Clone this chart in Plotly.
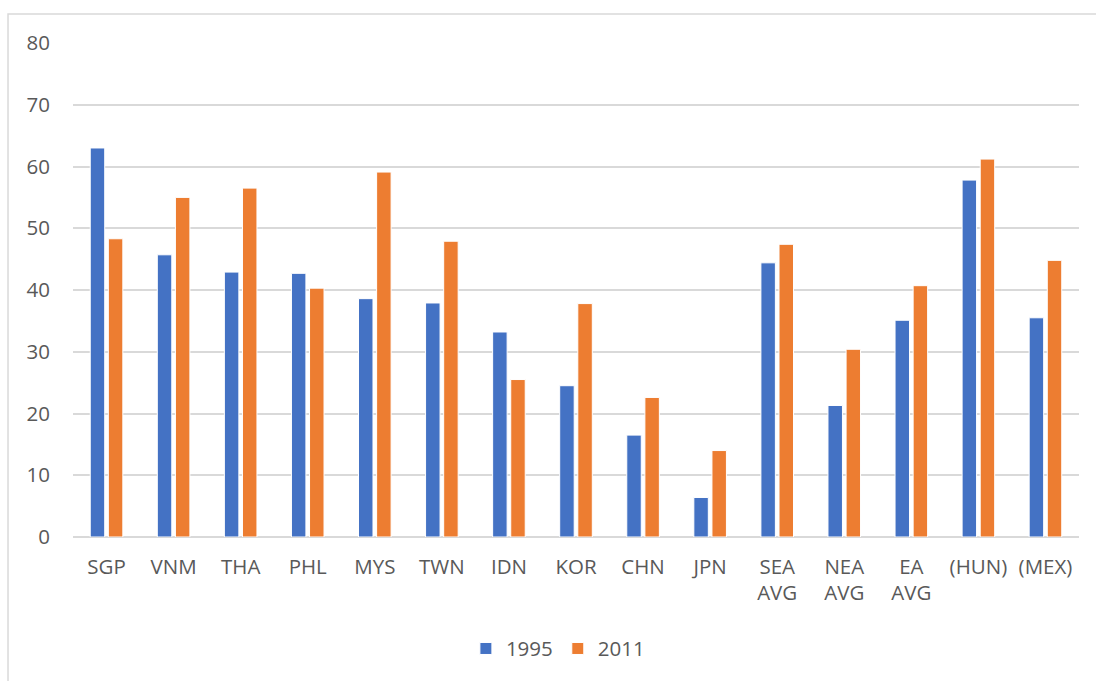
import plotly.graph_objects as go

# Categories and series values
categories = ["SGP", "VNM", "THA", "PHL", "MYS", "TWN", "IDN", "KOR", "CHN", "JPN",
              "SEA<br>AVG", "NEA<br>AVG", "EA<br>AVG", "(HUN)", "(MEX)"]
values_1995 = [63.0, 45.7, 42.9, 42.7, 38.6, 37.9, 33.2, 24.5, 16.5, 6.4,
               44.4, 21.3, 35.1, 57.8, 35.5]
values_2011 = [48.3, 55.0, 56.5, 40.3, 59.1, 47.9, 25.5, 37.8, 22.6, 14.0,
               47.4, 30.4, 40.7, 61.2, 44.8]
y_ticks = [0, 10, 20, 30, 40, 50, 60, 70, 80]

BLUE = "#4472C4"
ORANGE = "#ED7D31"
GRID = "#D9D9D9"
TEXT = "#595959"
FONT = "Open Sans, Segoe UI, sans-serif"
FS = 20.5

fig = go.Figure()
fig.add_trace(go.Bar(name="1995", x=categories, y=values_1995,
                     marker=dict(color=BLUE, line=dict(color="white", width=1))))
fig.add_trace(go.Bar(name="2011", x=categories, y=values_2011,
                     marker=dict(color=ORANGE, line=dict(color="white", width=1))))

fig.update_layout(
    width=1096, height=681,
    margin=dict(l=73, r=17, t=43, b=141),
    paper_bgcolor="white", plot_bgcolor="white",
    barmode="group", bargap=0.46, bargroupgap=0.2,
    font=dict(family=FONT, size=FS, color=TEXT),
    showlegend=True,
    legend=dict(orientation="h", x=0.482, xanchor="center", y=-0.226, yanchor="middle",
                font=dict(size=FS, color=TEXT), itemwidth=30, traceorder="normal"),
    xaxis=dict(showgrid=False, showline=False, ticks="", ticklabelstandoff=15,
               tickfont=dict(size=FS, color=TEXT), fixedrange=True, automargin=False),
    yaxis=dict(range=[0, 80], tickvals=y_ticks, showgrid=True, gridcolor=GRID,
               gridwidth=1.5, zeroline=True, zerolinecolor=GRID, zerolinewidth=1.5,
               showline=False, ticks="", ticklabelstandoff=22,
               tickfont=dict(size=FS, color=TEXT), fixedrange=True, automargin=False),
    shapes=[dict(type="rect", xref="paper", yref="paper",
                 x0=-0.0646, x1=1.03, y0=-0.32, y1=1.0586,
                 line=dict(color=GRID, width=1.5), fillcolor="rgba(0,0,0,0)", layer="below")],
)

fig.write_html("out.html")
